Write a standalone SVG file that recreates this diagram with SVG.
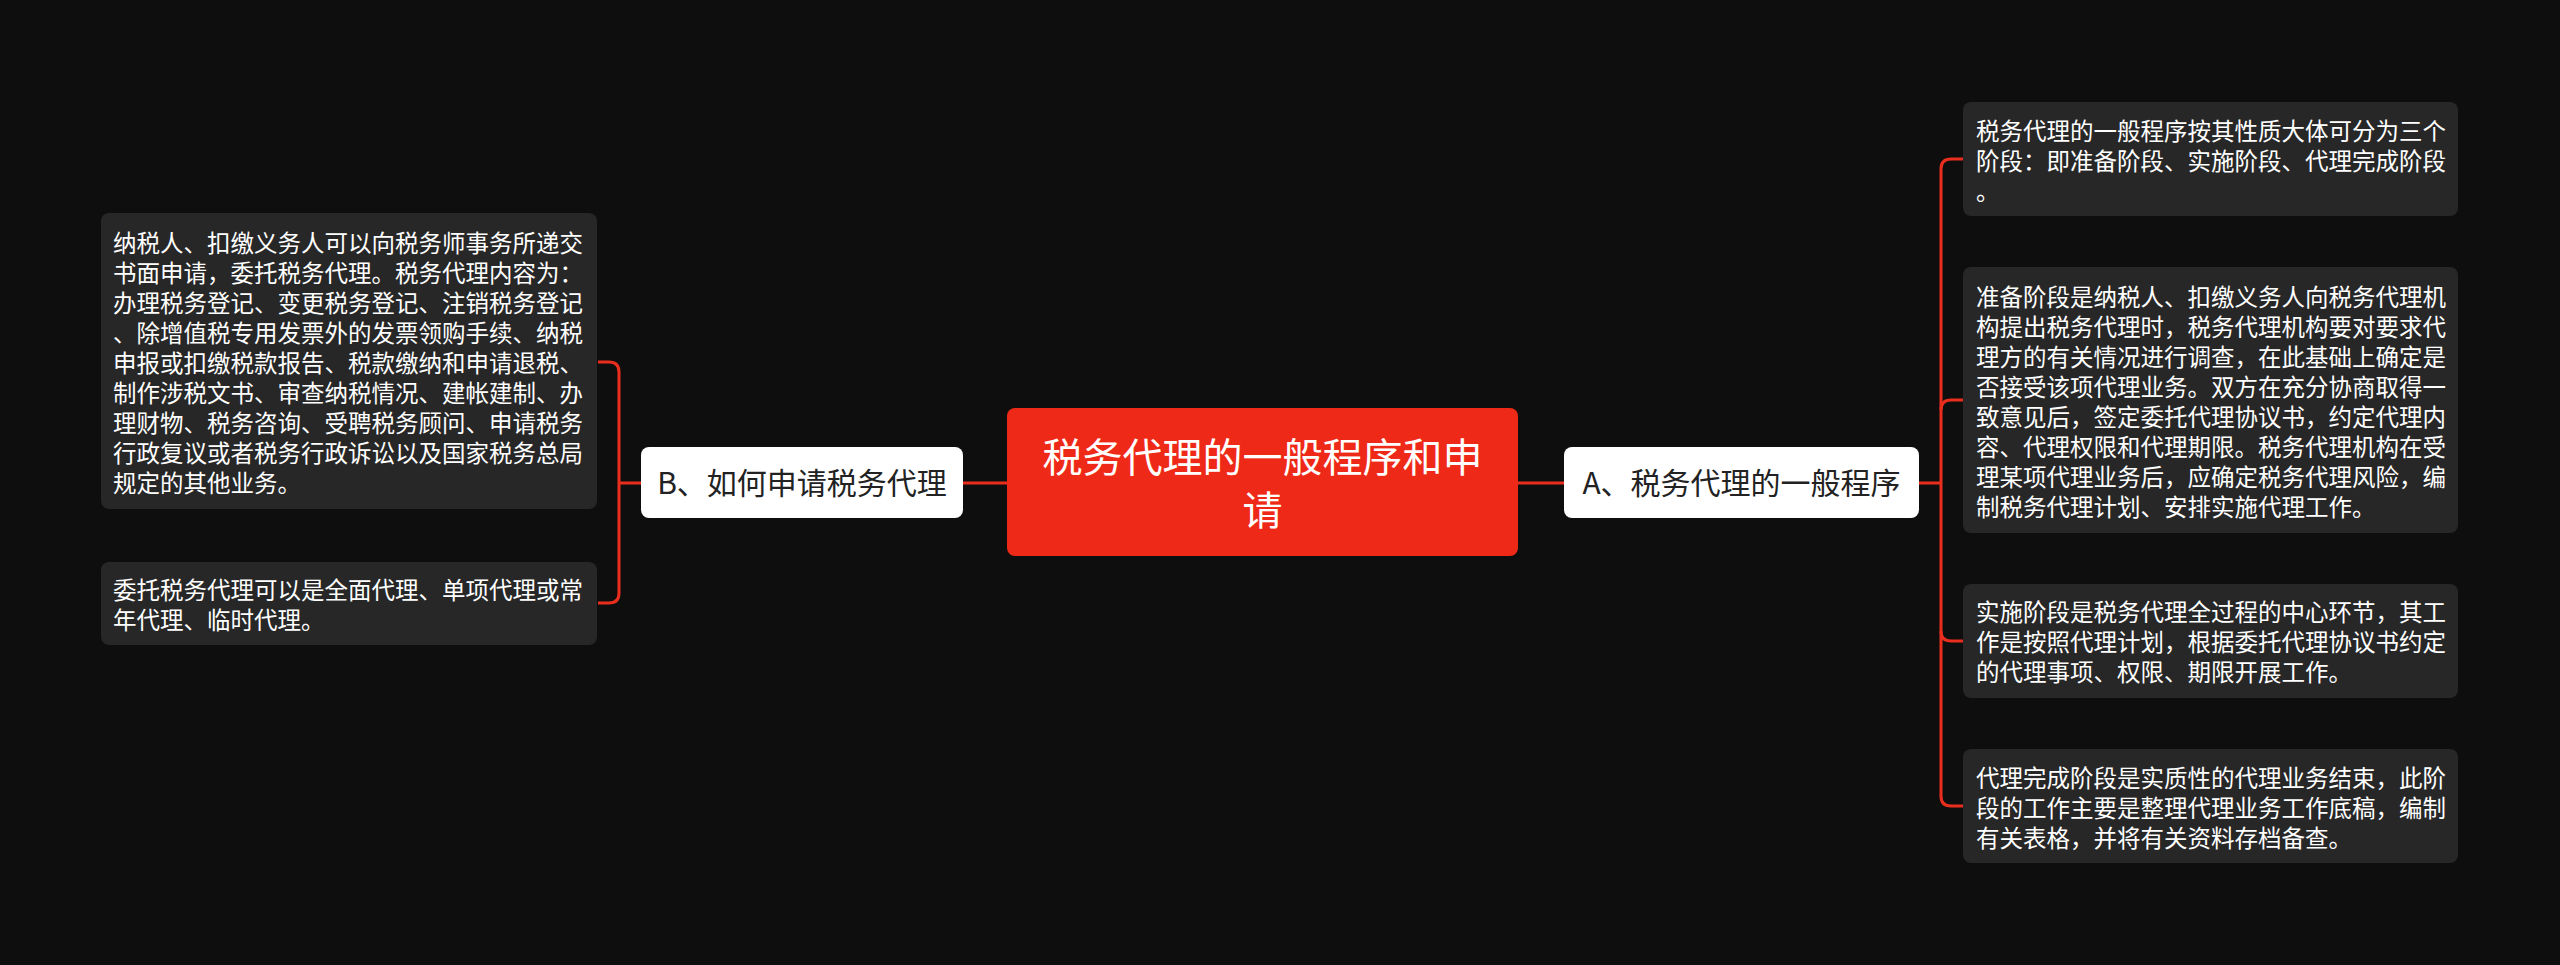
<svg xmlns="http://www.w3.org/2000/svg" width="2560" height="965" viewBox="0 0 2560 965">
<style>
.bg{fill:#0e0e0e}
.leaf{fill:#272727}
.leaf-t{font-family:"Noto Sans CJK SC","Noto Sans",sans-serif;font-size:23.5px;fill:#ffffff}
.mid{fill:#ffffff}
.mid-t{font-family:"Noto Sans CJK SC","Noto Sans",sans-serif;font-size:30px;fill:#222222;text-anchor:middle}
.root{fill:#ef2918}
.root-t{font-family:"Noto Sans CJK SC","Noto Sans",sans-serif;font-size:40px;fill:#ffffff;text-anchor:middle}
.conn{fill:none;stroke:#ea2e1e;stroke-width:3}
</style>
<rect class="bg" x="0" y="0" width="2560" height="965"/>
<g id="connectors">
<path class="conn" d="M963,483 H1008"/>
<path class="conn" d="M1518,483 H1564"/>
<path class="conn" d="M641,483 H619"/>
<path class="conn" d="M598,362 H609 Q619,362 619,372 V593 Q619,603 609,603 H598"/>
<path class="conn" d="M1919,483 H1941"/>
<path class="conn" d="M1963,159 H1951 Q1941,159 1941,169 V796 Q1941,806 1951,806 H1963"/>
<path class="conn" d="M1941,410 Q1941,400 1951,400 H1963"/>
<path class="conn" d="M1941,631 Q1941,641 1951,641 H1963"/>
</g>
<g id="root">
<rect class="root" x="1007" y="408" width="511" height="148" rx="8"/>
<text class="root-t"><tspan x="1262.5" y="472">税务代理的一般程序和申</tspan><tspan x="1262.5" y="525">请</tspan></text>
</g>
<g id="nodeB">
<rect class="mid" x="641" y="447" width="322" height="71" rx="8"/>
<text class="mid-t" x="802" y="494">B、如何申请税务代理</text>
</g>
<g id="nodeA">
<rect class="mid" x="1564" y="447" width="355" height="71" rx="8"/>
<text class="mid-t" x="1741.5" y="494">A、税务代理的一般程序</text>
</g>
<g id="leafB1">
<rect class="leaf" x="101" y="213" width="496" height="296" rx="8"/>
<text class="leaf-t"><tspan x="113" y="252">纳税人、扣缴义务人可以向税务师事务所递交</tspan><tspan x="113" y="282">书面申请，委托税务代理。税务代理内容为：</tspan><tspan x="113" y="312">办理税务登记、变更税务登记、注销税务登记</tspan><tspan x="113" y="342">、除增值税专用发票外的发票领购手续、纳税</tspan><tspan x="113" y="372">申报或扣缴税款报告、税款缴纳和申请退税、</tspan><tspan x="113" y="402">制作涉税文书、审查纳税情况、建帐建制、办</tspan><tspan x="113" y="432">理财物、税务咨询、受聘税务顾问、申请税务</tspan><tspan x="113" y="462">行政复议或者税务行政诉讼以及国家税务总局</tspan><tspan x="113" y="492">规定的其他业务。</tspan></text>
</g>
<g id="leafB2">
<rect class="leaf" x="101" y="562" width="496" height="83" rx="8"/>
<text class="leaf-t"><tspan x="113" y="599">委托税务代理可以是全面代理、单项代理或常</tspan><tspan x="113" y="629">年代理、临时代理。</tspan></text>
</g>
<g id="leafA1">
<rect class="leaf" x="1963" y="102" width="495" height="114" rx="8"/>
<text class="leaf-t"><tspan x="1976" y="140">税务代理的一般程序按其性质大体可分为三个</tspan><tspan x="1976" y="170">阶段：即准备阶段、实施阶段、代理完成阶段</tspan><tspan x="1976" y="200">。</tspan></text>
</g>
<g id="leafA2">
<rect class="leaf" x="1963" y="267" width="495" height="266" rx="8"/>
<text class="leaf-t"><tspan x="1976" y="306">准备阶段是纳税人、扣缴义务人向税务代理机</tspan><tspan x="1976" y="336">构提出税务代理时，税务代理机构要对要求代</tspan><tspan x="1976" y="366">理方的有关情况进行调查，在此基础上确定是</tspan><tspan x="1976" y="396">否接受该项代理业务。双方在充分协商取得一</tspan><tspan x="1976" y="426">致意见后，签定委托代理协议书，约定代理内</tspan><tspan x="1976" y="456">容、代理权限和代理期限。税务代理机构在受</tspan><tspan x="1976" y="486">理某项代理业务后，应确定税务代理风险，编</tspan><tspan x="1976" y="516">制税务代理计划、安排实施代理工作。</tspan></text>
</g>
<g id="leafA3">
<rect class="leaf" x="1963" y="584" width="495" height="114" rx="8"/>
<text class="leaf-t"><tspan x="1976" y="621">实施阶段是税务代理全过程的中心环节，其工</tspan><tspan x="1976" y="651">作是按照代理计划，根据委托代理协议书约定</tspan><tspan x="1976" y="681">的代理事项、权限、期限开展工作。</tspan></text>
</g>
<g id="leafA4">
<rect class="leaf" x="1963" y="749" width="495" height="114" rx="8"/>
<text class="leaf-t"><tspan x="1976" y="787">代理完成阶段是实质性的代理业务结束，此阶</tspan><tspan x="1976" y="817">段的工作主要是整理代理业务工作底稿，编制</tspan><tspan x="1976" y="847">有关表格，并将有关资料存档备查。</tspan></text>
</g>
</svg>
